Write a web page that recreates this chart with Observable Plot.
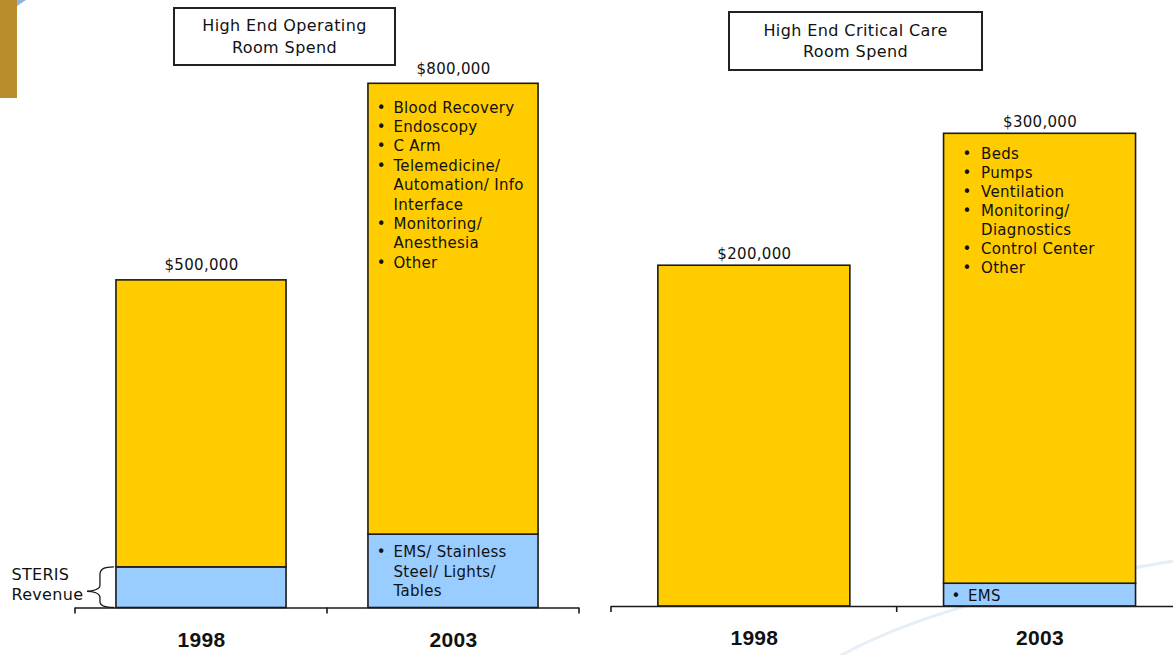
<!DOCTYPE html>
<html>
<head>
<meta charset="utf-8">
<script src="https://cdn.jsdelivr.net/npm/d3@7"></script>
<script src="https://cdn.jsdelivr.net/npm/@observablehq/plot@0.6"></script>
<style>
  body { margin: 0; background: #fff; }
  #stage { position: relative; width: 1173px; height: 655px; overflow: hidden; background: #fff;
           font-family: "DejaVu Sans", sans-serif; color: #111; }
  .titlebox { position: absolute; box-sizing: border-box; border: 2px solid #222; background: #fff;
              display: flex; align-items: center; justify-content: center; text-align: center;
              font-size: 16px; line-height: 21.5px; letter-spacing: 0.4px; }
  .panel { position: absolute; top: 0; height: 655px; }
  .panel svg { max-width: none !important; display: block; }
  .panel svg text { letter-spacing: 0.3px; }
  #decor { position: absolute; left: 0; top: 0; }
</style>
</head>
<body>
<div id="stage">
  <svg id="decor" width="1173" height="655">
    <rect x="0" y="0" width="17" height="98" fill="#b98c2c"></rect>
    <path d="M17,0 L26,0 L17,6 Z" fill="#8fb4e0"></path>
    <path d="M830,662 Q930,600 1180,560" fill="none" stroke="#e6eef7" stroke-width="3"></path>
  </svg>
  <div class="titlebox" id="title-or" style="left:173px;top:7px;width:223px;height:59px"></div>
  <div class="titlebox" id="title-cc" style="left:728px;top:11px;width:255px;height:60px"></div>
  <div class="panel" id="panel-or" style="left:0px;width:590px"></div>
  <div class="panel" id="panel-cc" style="left:590px;width:600px"></div>
</div>
<script>
// ---- data ----
const years = ["1998", "2003"];

// High end operating room spend per room, and the STERIS share at the bottom of each bar
const orTitle = ["High End Operating", "Room Spend"];
const orTotal = [500000, 800000];
const orSteris = [62000, 112000];
const orItems = [
  [],
  ["Blood Recovery", "Endoscopy", "C Arm", ["Telemedicine/", "Automation/ Info", "Interface"],
   ["Monitoring/", "Anesthesia"], "Other"]
];
const orSterisItems = [[], [["EMS/ Stainless", "Steel/ Lights/", "Tables"]]];
const sterisLabel = ["STERIS", "Revenue"];

// High end critical care room spend per room, and the EMS share
const ccTitle = ["High End Critical Care", "Room Spend"];
const ccTotal = [200000, 300000];
const ccEms = [0, 7000];
const ccItems = [
  [],
  ["Beds", "Pumps", "Ventilation", ["Monitoring/", "Diagnostics"], "Control Center", "Other"]
];
const ccEmsItems = [[], ["EMS"]];

// ---- styles ----
const GOLD = "#ffcc00";
const BLUE = "#99ccff";
const INK = "#1a1a1a";
const FONT = "DejaVu Sans, sans-serif";
const YEAR_FONT = "Liberation Sans, Arial, sans-serif";

document.getElementById("title-or").innerHTML = orTitle.join("<br>");
document.getElementById("title-cc").innerHTML = ccTitle.join("<br>");

// Turn a bullet list (an entry may wrap over several lines) into two columns of lines
function bulletColumns(items) {
  const bullets = [], lines = [];
  for (const item of items) {
    const parts = Array.isArray(item) ? item : [item];
    parts.forEach((p, i) => { bullets.push(i ? "\u00a0" : "•"); lines.push(p); });
  }
  return {bullets: bullets.join("\n"), lines: lines.join("\n")};
}

function panel(opts) {
  const {total, part, items, partItems, y, xRange, width, height, paddingInner,
         list, partList, labelDy, yearDy} = opts;
  const rows = years.map((year, i) => ({
    year, total: total[i], part: part[i],
    items: bulletColumns(items[i]), partItems: bulletColumns(partItems[i])
  }));
  const paddingOuter = paddingInner / 2;
  const band = d3.scaleBand(years, xRange).paddingInner(paddingInner).paddingOuter(paddingOuter);
  const half = band.bandwidth() / 2;
  const withItems = rows.filter(d => d.items.lines.length);
  const withPartItems = rows.filter(d => d.partItems.lines.length);
  const textBase = {fontFamily: FONT, fontSize: 15, fill: "#111"};

  const chart = Plot.plot({
    width, height,
    marginLeft: xRange[0], marginRight: width - xRange[1],
    marginTop: 0, marginBottom: height - y.range[0],
    style: {background: "transparent", overflow: "visible", maxWidth: "none"},
    x: {type: "band", domain: years, range: xRange, paddingInner, paddingOuter, round: false, axis: null},
    y: {...y, axis: null},
    marks: [
      Plot.barY(rows.filter(d => d.part > 0), {x: "year", y1: 0, y2: "part",
        fill: BLUE, stroke: INK, strokeWidth: 1.6}),
      Plot.barY(rows, {x: "year", y1: "part", y2: "total",
        fill: GOLD, stroke: INK, strokeWidth: 1.6}),
      Plot.ruleY([0], {stroke: INK, strokeWidth: 1.6}),
      Plot.text(rows, {x: "year", y: "total", text: d => "$" + d3.format(",")(d.total),
        lineAnchor: "bottom", dy: labelDy, fontFamily: FONT, fontSize: 15, fill: "#111"}),
      Plot.text(withItems, {x: "year", y: "total", text: d => d.items.bullets, ...textBase,
        lineHeight: list.lineHeight, textAnchor: "middle", lineAnchor: "top",
        dx: -half + list.bulletDx, dy: list.dy}),
      Plot.text(withItems, {x: "year", y: "total", text: d => d.items.lines, ...textBase,
        lineHeight: list.lineHeight, textAnchor: "start", lineAnchor: "top",
        dx: -half + list.textDx, dy: list.dy}),
      Plot.text(withPartItems, {x: "year", y: "part", text: d => d.partItems.bullets, ...textBase,
        lineHeight: partList.lineHeight, textAnchor: "middle", lineAnchor: "top",
        dx: -half + partList.bulletDx, dy: partList.dy}),
      Plot.text(withPartItems, {x: "year", y: "part", text: d => d.partItems.lines, ...textBase,
        lineHeight: partList.lineHeight, textAnchor: "start", lineAnchor: "top",
        dx: -half + partList.textDx, dy: partList.dy}),
      Plot.text(years, {x: d => d, frameAnchor: "bottom", text: d => d, lineAnchor: "bottom",
        dy: yearDy, fontFamily: YEAR_FONT, fontSize: 21, fontWeight: "bold", fill: "#111"}),
      ...(opts.extraMarks || [])
    ]
  });

  // category ticks sit on the boundaries between the year bands
  const xs = chart.scale("x"), ys = chart.scale("y");
  const gap = band.step() - band.bandwidth();
  const base = ys.apply(0);
  const last = years[years.length - 1];
  const bounds = years.map(yr => xs.apply(yr) - gap / 2)
    .concat([xs.apply(last) + band.bandwidth() + gap / 2]);
  const g = d3.select(chart).append("g").attr("stroke", INK).attr("stroke-width", 1.6);
  bounds.forEach(b => g.append("line").attr("x1", b).attr("x2", b).attr("y1", base).attr("y2", base + 6));
  return {chart, xs, ys, band};
}

// ---- operating room panel ----
const or = panel({
  total: orTotal, part: orSteris, items: orItems, partItems: orSterisItems,
  y: {type: "linear", domain: [0, 800000], range: [607.5, 83.3]},
  xRange: [75, 579], width: 590, height: 655, paddingInner: 0.325,
  list: {dy: 15, bulletDx: 13, textDx: 25, lineHeight: 19.4 / 15},
  partList: {dy: 9, bulletDx: 13, textDx: 25, lineHeight: 19.4 / 15},
  labelDy: -10, yearDy: 39,
  extraMarks: [
    Plot.text([sterisLabel.join("\n")], {frameAnchor: "left", y: [orSteris[0]], text: d => d,
      textAnchor: "start", lineAnchor: "top", dx: -64, dy: -2, fontFamily: FONT, fontSize: 16,
      lineHeight: 20 / 16, fill: "#111"})
  ]
});
document.getElementById("panel-or").appendChild(or.chart);

// curly brace tying the STERIS label to the blue segment of the 1998 bar
{
  const top = or.ys.apply(orSteris[0]), bot = or.ys.apply(0), xb = or.xs.apply(years[0]);
  const spine = xb - 16, tipX = xb - 29, tipY = top + (bot - top) * 0.6;
  const d = `M${xb - 2},${top} C${xb - 12},${top} ${spine},${top + 2} ${spine},${top + 8}
    L${spine},${tipY - 6} C${spine},${tipY - 2} ${tipX + 6},${tipY} ${tipX},${tipY}
    C${tipX + 6},${tipY} ${spine},${tipY + 2} ${spine},${tipY + 6}
    L${spine},${bot - 6} C${spine},${bot - 2} ${xb - 12},${bot} ${xb - 2},${bot}`;
  d3.select(or.chart).append("path").attr("d", d).attr("fill", "none")
    .attr("stroke", INK).attr("stroke-width", 1.3);
}

// ---- critical care panel ----
const cc = panel({
  total: ccTotal, part: ccEms, items: ccItems, partItems: ccEmsItems,
  y: {type: "pow", exponent: 0.807, domain: [0, 300000], range: [606, 133.3]},
  xRange: [21, 592.4], width: 600, height: 655, paddingInner: 0.328,
  list: {dy: 11.8, bulletDx: 23, textDx: 37, lineHeight: 19 / 15},
  partList: {dy: 3.5, bulletDx: 12, textDx: 24, lineHeight: 19 / 15},
  labelDy: -7, yearDy: 38.5
});
document.getElementById("panel-cc").appendChild(cc.chart);
</script>
</body>
</html>
